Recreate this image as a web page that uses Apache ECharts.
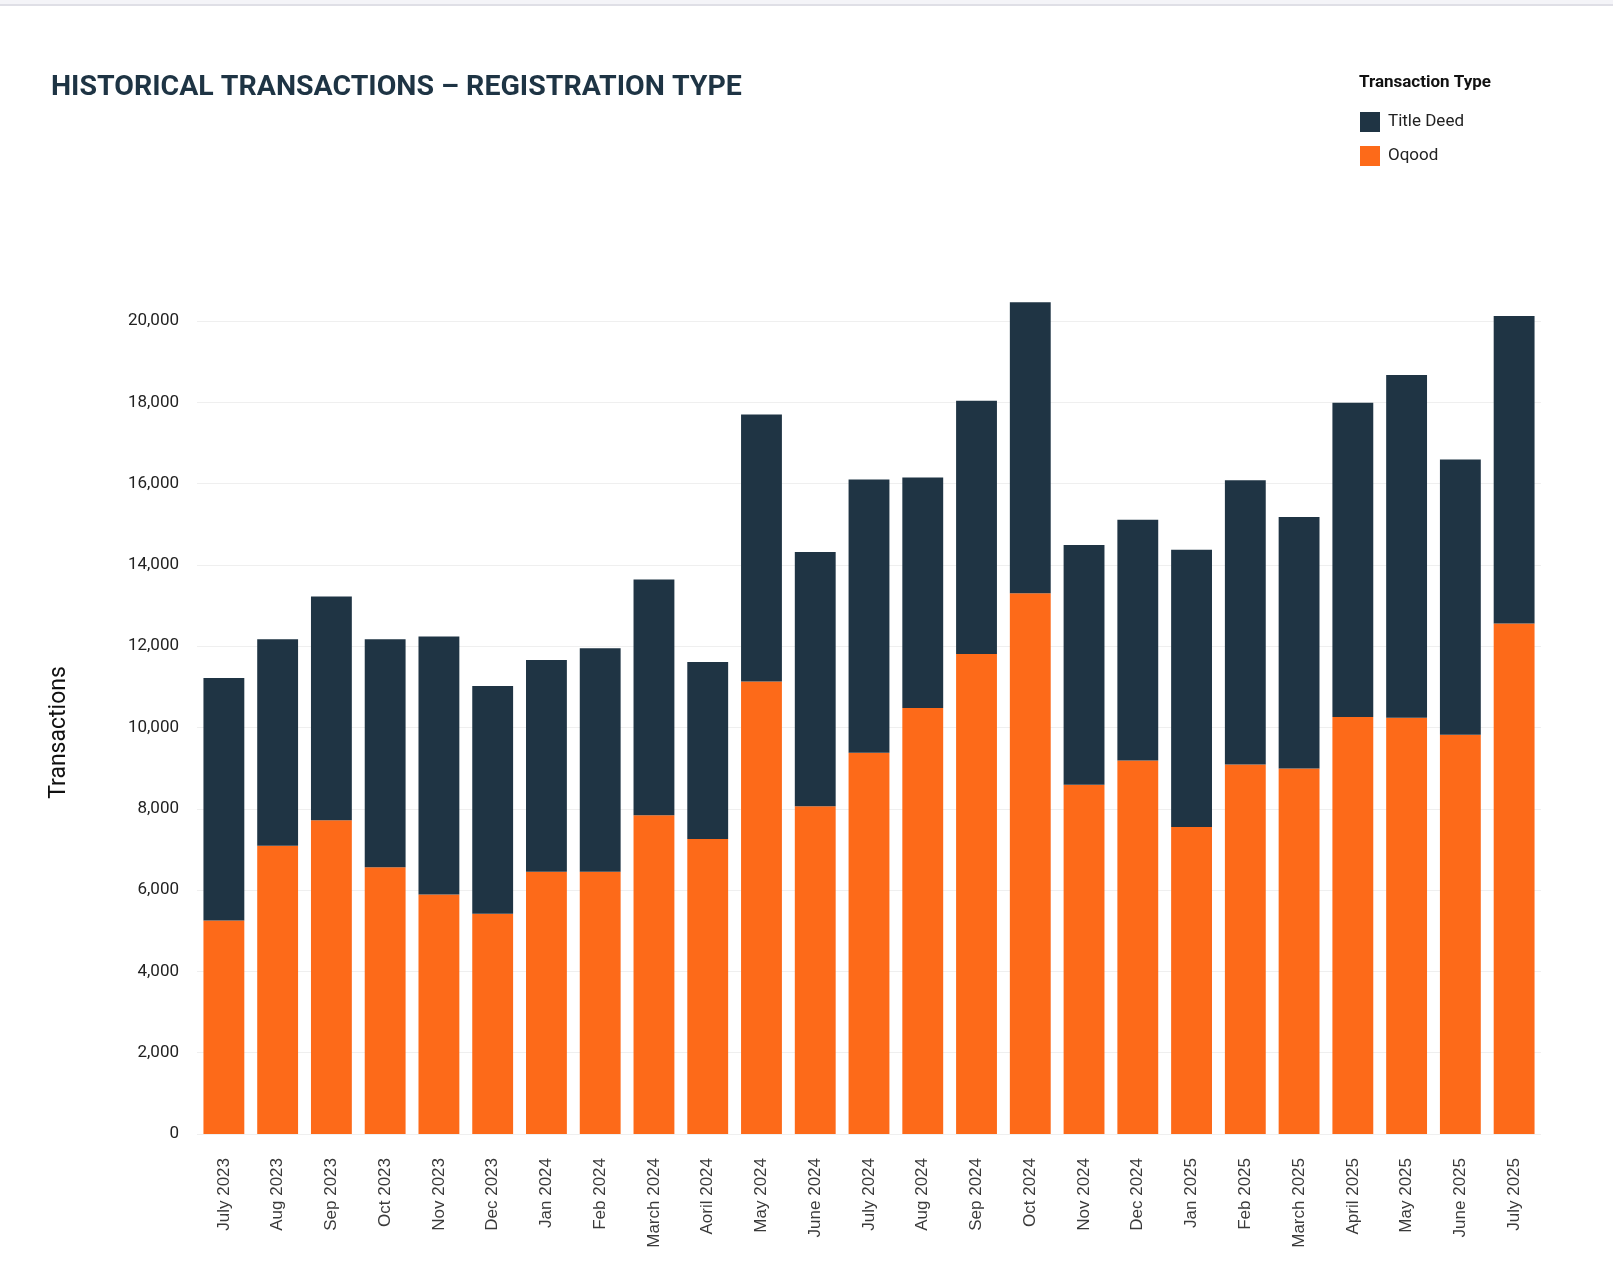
<!DOCTYPE html>
<html>
<head>
<meta charset="utf-8">
<script src="https://cdn.jsdelivr.net/npm/echarts@6/dist/echarts.min.js"></script>
<style>
  html, body { margin: 0; padding: 0; background: #ffffff; }
  #chart { width: 1613px; height: 1273px; }
</style>
</head>
<body>
<div id="chart"></div>
<script>
const months = [
  'July 2023', 'Aug 2023', 'Sep 2023', 'Oct 2023', 'Nov 2023', 'Dec 2023',
  'Jan 2024', 'Feb 2024', 'March 2024', 'Aoril 2024', 'May 2024', 'June 2024',
  'July 2024', 'Aug 2024', 'Sep 2024', 'Oct 2024', 'Nov 2024', 'Dec 2024',
  'Jan 2025', 'Feb 2025', 'March 2025', 'April 2025', 'May 2025', 'June 2025',
  'July 2025'
];
const oqood = [
  5250, 7090, 7720, 6560, 5890, 5420,
  6450, 6450, 7840, 7260, 11130, 8060,
  9380, 10480, 11810, 13300, 8590, 9190,
  7550, 9090, 8990, 10260, 10240, 9820,
  12560
];
const titleDeed = [
  5970, 5080, 5500, 5610, 6350, 5600,
  5210, 5500, 5800, 4350, 6570, 6260,
  6720, 5670, 6230, 7160, 5900, 5920,
  6820, 6990, 6190, 7730, 8430, 6770,
  7560
];
const yTicks = { min: 0, max: 20000, interval: 2000 };

const chart = echarts.init(document.getElementById('chart'), null, { renderer: 'canvas' });
const option = {
  backgroundColor: '#ffffff',
  animation: false,
  title: [
    {
      text: 'HISTORICAL TRANSACTIONS \u2013 REGISTRATION TYPE',
      left: 51, top: 73, padding: 0,
      textStyle: { fontFamily: 'Roboto', fontWeight: 'bold', fontSize: 28.5, color: '#1e3444' }
    },
    {
      text: 'Transaction Type',
      left: 1359, top: 74, padding: 0,
      textStyle: { fontFamily: 'Roboto', fontWeight: 'bold', fontSize: 17, color: '#111111' }
    }
  ],
  graphic: [
    {
      type: 'rect', left: 0, top: 0,
      shape: { width: 1613, height: 4 },
      style: { fill: '#f4f4f8' }
    },
    {
      type: 'rect', left: 0, top: 4,
      shape: { width: 1613, height: 2 },
      style: { fill: '#dfdfe6' }
    }
  ],
  legend: {
    data: ['Title Deed', 'Oqood'],
    orient: 'vertical',
    left: 1360, top: 112, padding: 0,
    icon: 'rect',
    itemWidth: 20, itemHeight: 20, itemGap: 14,
    textStyle: { fontFamily: 'Roboto', fontSize: 17, color: '#222222', padding: [0, 0, 0, 3] }
  },
  grid: { left: 197, right: 72, top: 321, bottom: 139, containLabel: false },
  xAxis: {
    type: 'category',
    data: months,
    axisLine: { show: false },
    axisTick: { show: false },
    axisLabel: {
      rotate: 90, margin: 24, interval: 0,
      fontFamily: 'Liberation Sans', fontSize: 17, color: '#3a3a3a'
    }
  },
  yAxis: {
    type: 'value',
    min: yTicks.min, max: yTicks.max, interval: yTicks.interval,
    name: 'Transactions',
    nameLocation: 'middle',
    nameGap: 126,
    nameRotate: 90,
    nameTextStyle: { fontFamily: 'Roboto', fontSize: 23, color: '#111111', padding: [0, 10, 0, 0] },
    axisLine: { show: false },
    axisTick: { show: false },
    axisLabel: {
      margin: 18,
      fontFamily: 'Roboto', fontSize: 17, color: '#222222',
      formatter: v => v.toLocaleString('en-US')
    },
    splitLine: { lineStyle: { color: '#efefef', width: 1 } }
  },
  series: [
    {
      name: 'Oqood', type: 'bar', stack: 'total', data: oqood,
      barCategoryGap: '24%', clip: false,
      itemStyle: { color: '#fd6a19' }
    },
    {
      name: 'Title Deed', type: 'bar', stack: 'total', data: titleDeed,
      barCategoryGap: '24%', clip: false,
      itemStyle: { color: '#1f3444' }
    }
  ]
};
chart.setOption(option);
</script>
</body>
</html>
